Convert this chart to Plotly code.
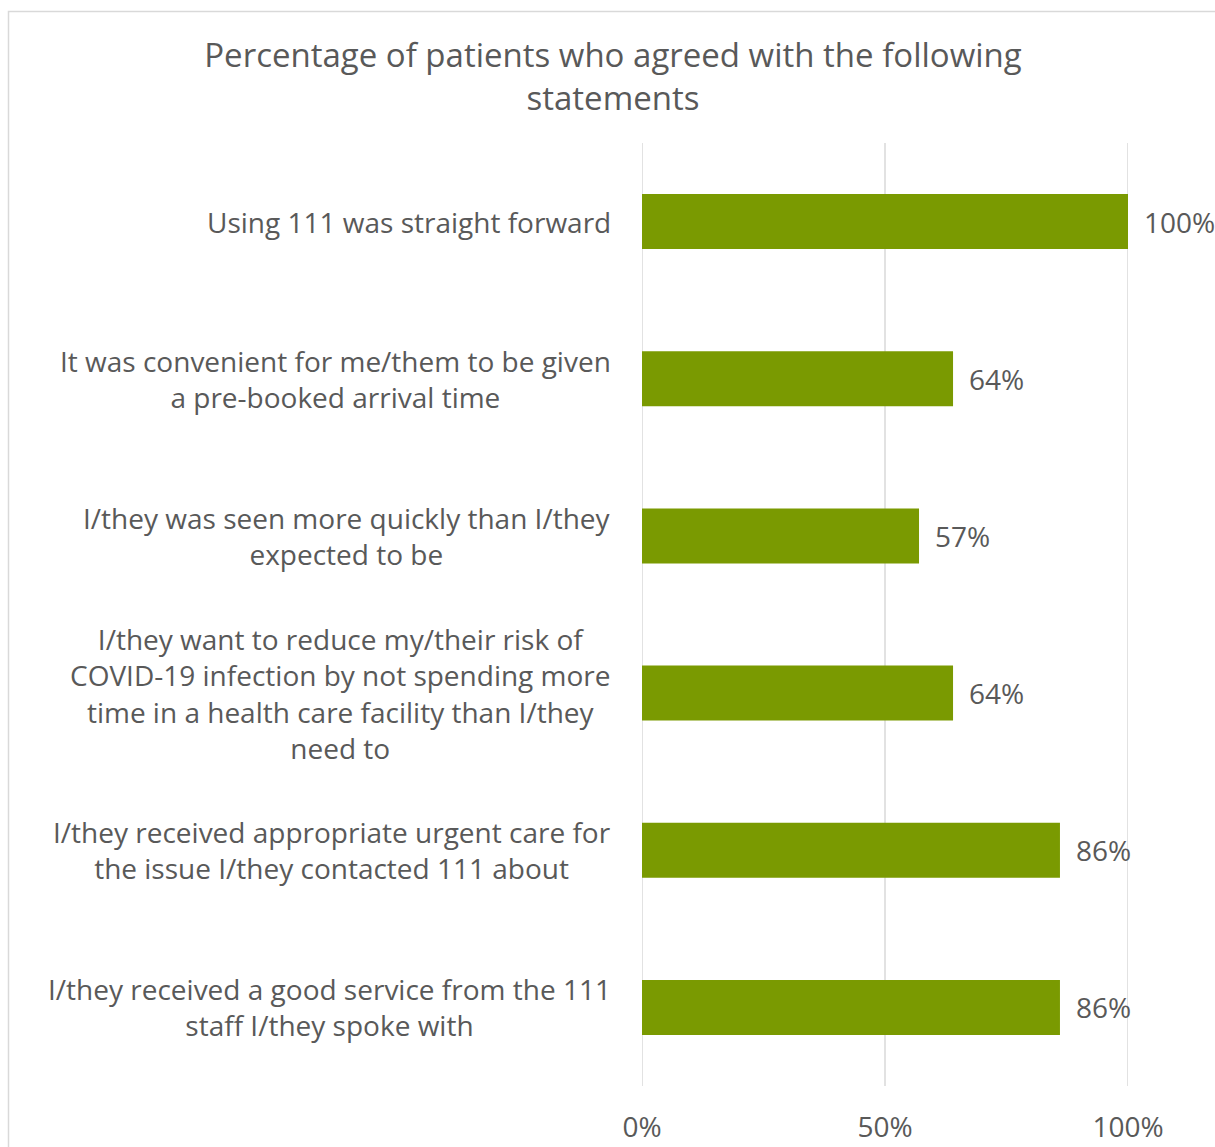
import plotly.graph_objects as go

categories = [
    "Using 111 was straight forward",
    "It was convenient for me/them to be given<br>a pre-booked arrival time",
    "I/they was seen more quickly than I/they<br>expected to be",
    "I/they want to reduce my/their risk of<br>COVID-19 infection by not spending more<br>time in a health care facility than I/they<br>need to",
    "I/they received appropriate urgent care for<br>the issue I/they contacted 111 about",
    "I/they received a good service from the 111<br>staff I/they spoke with",
]
values = [100, 64, 57, 64, 86, 86]
tick_vals = [0, 50, 100]
tick_text = ["0%", "50%", "100%"]

FONT = "Open Sans"
TXT = "#595959"
GREEN = "#7A9A01"
FS = 28

fig = go.Figure()
fig.add_trace(go.Bar(
    x=values, y=list(range(len(categories))), orientation="h",
    marker=dict(color=GREEN, line=dict(width=0)),
    width=0.35, hoverinfo="skip",
))

annotations = []
for i, (c, v) in enumerate(zip(categories, values)):
    annotations.append(dict(
        x=-0.06, xref="paper", y=i, yref="y", text=c, showarrow=False,
        xanchor="right", yanchor="middle", align="center",
        font=dict(family=FONT, size=FS, color=TXT),
    ))
    annotations.append(dict(
        x=v, xref="x", y=i, yref="y", text=f"{v}%", showarrow=False,
        xanchor="left", yanchor="middle", xshift=14,
        font=dict(family=FONT, size=FS, color=TXT),
    ))

shapes = [dict(type="rect", xref="paper", yref="paper",
               x0=(8.5 - 642) / 486, x1=(1216 - 642) / 486,
               y0=-1, y1=1 + (143 - 11.5) / 943,
               line=dict(color="#D9D9D9", width=1.5), layer="below")]
for t in tick_vals:
    shapes.append(dict(type="line", xref="x", yref="paper", x0=t, x1=t, y0=0, y1=1,
                       line=dict(color="#D9D9D9", width=1.5), layer="below"))

fig.update_layout(
    width=1215, height=1147,
    margin=dict(l=642, r=87, t=143, b=61, autoexpand=False),
    paper_bgcolor="white", plot_bgcolor="white",
    showlegend=False,
    title=dict(
        text="Percentage of patients who agreed with the following<br>statements",
        x=613/1215, xanchor="center", xref="container",
        y=1 - 67/1147, yanchor="middle", yref="container",
        font=dict(family=FONT, size=33, color=TXT),
    ),
    xaxis=dict(
        range=[0, 100], tickvals=tick_vals, ticktext=tick_text,
        showgrid=False, automargin=False,
        zeroline=False, showline=False, ticks="",
        ticklabelstandoff=22,
        tickfont=dict(family=FONT, size=FS, color=TXT),
        fixedrange=True,
    ),
    yaxis=dict(
        range=[5.5, -0.5], showticklabels=False, showgrid=False,
        zeroline=False, showline=False, fixedrange=True,
    ),
    annotations=annotations,
    shapes=shapes,
)

fig.write_html("out.html")
